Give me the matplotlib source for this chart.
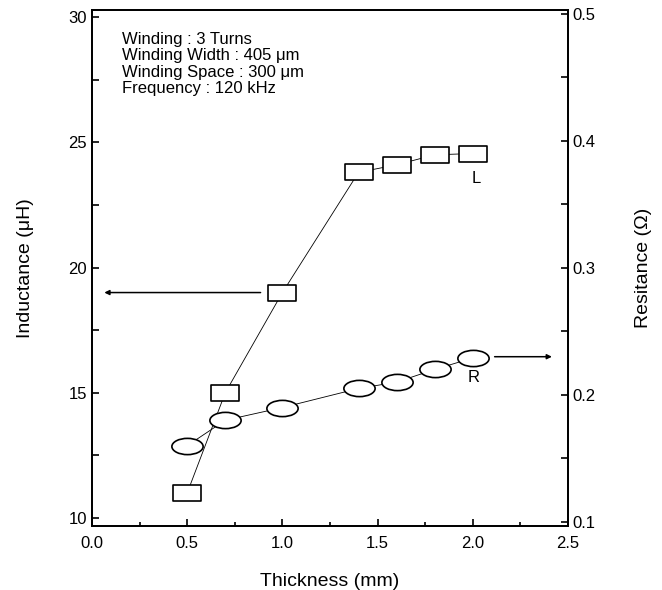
import numpy as np
import matplotlib
matplotlib.use("Agg")
import matplotlib.pyplot as plt
from matplotlib.path import Path
from matplotlib.ticker import MultipleLocator, FormatStrFormatter

plt.rcParams["font.family"] = ["Liberation Sans", "DejaVu Sans"]

# data
thickness = [0.5, 0.7, 1.0, 1.4, 1.6, 1.8, 2.0]
inductance = [11.0, 15.0, 19.0, 23.8, 24.1, 24.5, 24.55]
resistance = [0.160, 0.180, 0.190, 0.205, 0.210, 0.220, 0.229]

info_lines = ["Winding : 3 Turns",
              "Winding Width : 405 \u03bcm",
              "Winding Space : 300 \u03bcm",
              "Frequency : 120 kHz"]

# wide rectangle and ellipse markers
rect = Path([(-1, -0.56), (1, -0.56), (1, 0.56), (-1, 0.56), (-1, -0.56)],
            [Path.MOVETO, Path.LINETO, Path.LINETO, Path.LINETO, Path.CLOSEPOLY])
circ = Path.unit_circle()
ell = Path(circ.vertices * np.array([1.0, 0.52]), circ.codes)

fig = plt.figure(figsize=(6.62, 5.9), dpi=100)
ax = fig.add_axes([0.139, 0.1085, 0.719, 0.8745])
ax2 = ax.twinx()

ax.plot(thickness, inductance, color="black", lw=0.6, marker=rect, ms=19.5,
        mfc="white", mec="black", mew=1.2, zorder=3)
ax2.plot(thickness, resistance, color="black", lw=0.6, marker=ell, ms=22.5,
         mfc="white", mec="black", mew=1.2, zorder=3)

ax.set_xlim(0, 2.5)
ax.set_ylim(9.68, 30.28)
ax2.set_ylim(0.0968, 0.5028)

ax.xaxis.set_major_locator(MultipleLocator(0.5))
ax.xaxis.set_minor_locator(MultipleLocator(0.25))
ax.yaxis.set_major_locator(MultipleLocator(5))
ax.yaxis.set_minor_locator(MultipleLocator(2.5))
ax2.yaxis.set_major_locator(MultipleLocator(0.1))
ax2.yaxis.set_minor_locator(MultipleLocator(0.05))

ax.tick_params(axis="both", which="both", direction="in", labelsize=12, width=1.2)
ax.tick_params(axis="x", which="major", length=5, pad=7)
ax.tick_params(axis="x", which="minor", length=3)
ax.tick_params(axis="y", which="both", length=5, right=False)
ax2.tick_params(axis="y", which="both", direction="in", length=5, labelsize=12, width=1.2)
ax.xaxis.set_major_formatter(FormatStrFormatter("%.1f"))
ax2.yaxis.set_major_formatter(FormatStrFormatter("%.1f"))

for s in ax.spines.values():
    s.set_linewidth(1.3)
for s in ax2.spines.values():
    s.set_linewidth(1.3)

ax.set_xlabel("Thickness (mm)", fontsize=14, labelpad=16)
ax.set_ylabel("Inductance (\u03bcH)", fontsize=14, labelpad=25)
ax2.set_ylabel("Resitance (\u03a9)", fontsize=14, labelpad=28)

ax.text(0.063, 0.958, "\n".join(info_lines), transform=ax.transAxes,
        fontsize=12, va="top", ha="left", linespacing=1.12)

ax.text(2.02, 23.55, "L", fontsize=12, ha="center", va="center")
ax2.text(2.005, 0.214, "R", fontsize=12, ha="center", va="center")

arrow = dict(arrowstyle="-|>", color="black", lw=1.1, mutation_scale=7)
ax.annotate("", xy=(0.05, 19.0), xytext=(0.9, 19.0), arrowprops=arrow)
ax2.annotate("", xy=(2.43, 0.23), xytext=(2.1, 0.23), arrowprops=arrow)

fig.savefig("out.png", dpi=100)
